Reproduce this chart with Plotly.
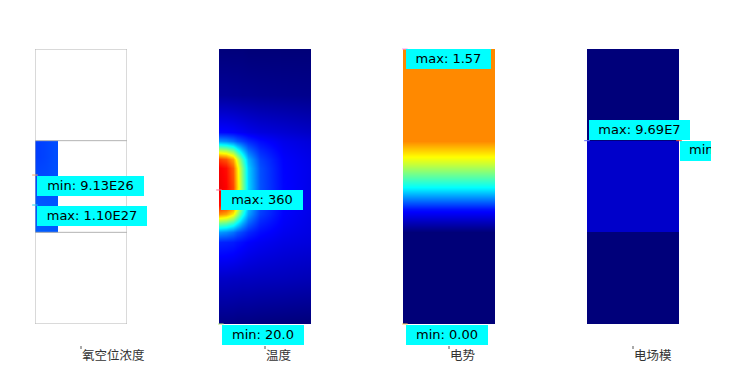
import plotly.graph_objects as go

W, H = 729, 381

titles = ["氧空位浓度", "温度", "电势", "电场模"]

# Panel 1: oxygen vacancy concentration (only the left strip of the middle layer)
ov_x_edges = [0, 0.083, 0.167, 0.25]
ov_y_edges = [1.0, 1.333, 1.667, 2.0]
ov_z = [[1.08e27, 1.07e27, 1.05e27],
        [1.01e27, 1.00e27, 1.02e27],
        [9.3e26, 9.6e26, 1.00e27]]
ov_range = [0, 5e27]

# Panel 2: temperature
temp_x = [0, 0.08, 0.15, 0.2, 0.25, 0.32, 0.45, 0.7, 1.0]
temp_y = [0, 0.5, 0.9, 1.0, 1.1, 1.2, 1.3, 1.5, 1.7, 1.8, 1.9, 2.0, 2.1, 2.5, 3.0]
temp_z = [
    [24, 24, 24, 23, 23, 23, 22, 21, 20],
    [48, 48, 47, 47, 46, 46, 45, 44, 42],
    [80, 79, 77, 74, 71, 67, 63, 58, 55],
    [125, 120, 110, 100, 92, 82, 71, 62, 57],
    [205, 198, 180, 158, 132, 105, 80, 65, 58],
    [300, 290, 262, 222, 175, 128, 90, 67, 59],
    [348, 338, 312, 262, 205, 142, 95, 68, 60],
    [360, 352, 326, 275, 215, 148, 98, 69, 60],
    [356, 348, 318, 268, 210, 145, 97, 68, 60],
    [330, 320, 290, 242, 190, 134, 92, 67, 59],
    [230, 222, 200, 170, 140, 108, 82, 64, 57],
    [125, 120, 110, 100, 92, 82, 71, 60, 54],
    [70, 69, 67, 65, 63, 60, 56, 52, 47],
    [32, 32, 31, 31, 30, 30, 29, 28, 27],
    [21, 21, 21, 21, 21, 20, 20, 20, 20],
]
temp_range = [20, 400]

# Panel 3: electric potential (vertical profile)
pot_x = [0, 1]
pot_y = [0, 1.0, 1.25, 1.5, 1.75, 2.0, 3.0]
pot_v = [0, 0, 0.30, 0.80, 1.21, 1.57, 1.57]
pot_range = [0, 2.12]

# Panel 4: electric field norm (per layer)
ef_x_edges = [0, 1]
ef_y_edges = [0, 1, 2, 3]
ef_v = [2.0e6, 9.5e7, 2.0e6]
ef_range = [0, 1.25e9]

# min / max labels
label_panel = [1, 1, 2, 2, 3, 3, 4]
label_text = ["min: 9.13E26", "max: 1.10E27", "max: 360", "min: 20.0",
              "max: 1.57", "min: 0.00", "max: 9.69E7"]
label_x = [0, 0, 0, 0.02, 0.02, 0.02, 0]
label_y = [1.625, 1.298, 1.462, 0, 3, 0, 2]
label_w = [107, 110, 82, 82, 85, 82, 101]
label_above = [False, False, False, False, False, False, True]
clipped_label = "min"
clipped_x, clipped_y = 1, 2

jet = [[0, "rgb(0,0,120)"], [0.125, "rgb(0,0,255)"], [0.375, "rgb(0,255,255)"],
       [0.625, "rgb(255,255,0)"], [0.875, "rgb(255,0,0)"], [1, "rgb(128,0,0)"]]

panel_left = [35, 219, 403, 587]
panel_w = 92
top_px, bot_px = 49, 324

fig = go.Figure()

fig.add_trace(go.Heatmap(x=ov_x_edges, y=ov_y_edges, z=ov_z, zmin=ov_range[0], zmax=ov_range[1],
                         colorscale=jet, zsmooth="best", showscale=False, hoverinfo="skip",
                         xaxis="x", yaxis="y"))
fig.add_trace(go.Heatmap(x=temp_x, y=temp_y, z=temp_z, zmin=temp_range[0], zmax=temp_range[1],
                         colorscale=jet, zsmooth="best", showscale=False, hoverinfo="skip",
                         xaxis="x2", yaxis="y2"))
fig.add_trace(go.Heatmap(x=pot_x, y=pot_y, z=[[v, v] for v in pot_v], zmin=pot_range[0], zmax=pot_range[1],
                         colorscale=jet, zsmooth="best", showscale=False, hoverinfo="skip",
                         xaxis="x3", yaxis="y3"))
fig.add_trace(go.Heatmap(x=ef_x_edges, y=ef_y_edges, z=[[v] for v in ef_v], zmin=ef_range[0], zmax=ef_range[1],
                         colorscale=jet, zsmooth=False, showscale=False, hoverinfo="skip",
                         xaxis="x4", yaxis="y4"))

# little point markers at extrema
for p, x, y in zip(label_panel + [4], label_x + [clipped_x], label_y + [clipped_y]):
    sfx = "" if p == 1 else str(p)
    fig.add_trace(go.Scatter(x=[x], y=[y], mode="markers", cliponaxis=False, hoverinfo="skip",
                             marker=dict(symbol="line-ew-open", size=4, line=dict(color="black", width=1)),
                             xaxis="x" + sfx, yaxis="y" + sfx, showlegend=False))

layout = dict(width=W, height=H, margin=dict(l=0, r=0, t=0, b=0),
              paper_bgcolor="white", plot_bgcolor="rgba(0,0,0,0)", showlegend=False)
ydom = [(H - bot_px) / H, (H - top_px) / H]
for i, L in enumerate(panel_left):
    sfx = "" if i == 0 else str(i + 1)
    layout["xaxis" + sfx] = dict(domain=[L / W, (L + panel_w) / W], range=[0, 1], visible=False, fixedrange=True,
                                 anchor="y" + sfx)
    layout["yaxis" + sfx] = dict(domain=ydom, range=[0, 3], visible=False, fixedrange=True, anchor="x" + sfx)

# overlay axis used to clip the cut-off label at right
cx0, cx1, cy0, cy1 = 680, 711, 141, 161
layout["xaxis5"] = dict(domain=[cx0 / W, cx1 / W], range=[0, cx1 - cx0], visible=False, fixedrange=True, anchor="y5")
layout["yaxis5"] = dict(domain=[(H - cy1) / H, (H - cy0) / H], range=[0, cy1 - cy0], visible=False,
                        fixedrange=True, anchor="x5")
fig.update_layout(**layout)

fig.add_trace(go.Scatter(x=[9], y=[(cy1 - cy0) / 2], mode="text", text=[clipped_label],
                         textposition="middle right", cliponaxis=True, hoverinfo="skip",
                         textfont=dict(family="DejaVu Sans", size=13, color="black"),
                         xaxis="x5", yaxis="y5", showlegend=False))

shapes = []
# panel 1 outline & layer boundaries
shapes.append(dict(type="rect", xref="x", yref="y", x0=0, x1=1, y0=0, y1=3,
                   line=dict(color="#b4b4b4", width=1), layer="above"))
for yb in [1, 2]:
    shapes.append(dict(type="line", xref="x", yref="y", x0=0, x1=1, y0=yb, y1=yb,
                       line=dict(color="#b4b4b4", width=1), layer="above"))
# cyan box of clipped label
shapes.append(dict(type="rect", xref="paper", yref="paper", x0=cx0 / W, x1=cx1 / W,
                   y0=(H - cy1) / H, y1=(H - cy0) / H, fillcolor="#00ffff", line=dict(width=0), layer="below"))

annotations = []
for i, t in enumerate(titles):
    sfx = "" if i == 0 else str(i + 1)
    shapes.append(dict(type="line", xref="x" + sfx + " domain", yref="paper", x0=0.5, x1=0.5,
                       y0=(H - 349) / H, y1=(H - 346) / H, line=dict(color="#555", width=1)))
    annotations.append(dict(text=t, xref="x" + sfx + " domain", yref="paper", x=0.5, y=(H - 354) / H,
                            xanchor="left", yanchor="middle", xshift=-1, showarrow=False,
                            font=dict(family="Noto Sans CJK SC", size=12.5, color="#333")))

for p, t, x, y, w, above in zip(label_panel, label_text, label_x, label_y, label_w, label_above):
    sfx = "" if p == 1 else str(p)
    annotations.append(dict(text=t, xref="x" + sfx, yref="y" + sfx, x=x, y=y, showarrow=False,
                            xanchor="left", yanchor="bottom" if above else "top",
                            xshift=1.5, yshift=1 if above else -0.5,
                            width=w, height=19.5, align="center", valign="middle",
                            bgcolor="#00ffff", borderpad=0, borderwidth=0,
                            font=dict(family="DejaVu Sans", size=13, color="black")))

fig.update_layout(shapes=shapes, annotations=annotations)
fig.write_html("out.html")
